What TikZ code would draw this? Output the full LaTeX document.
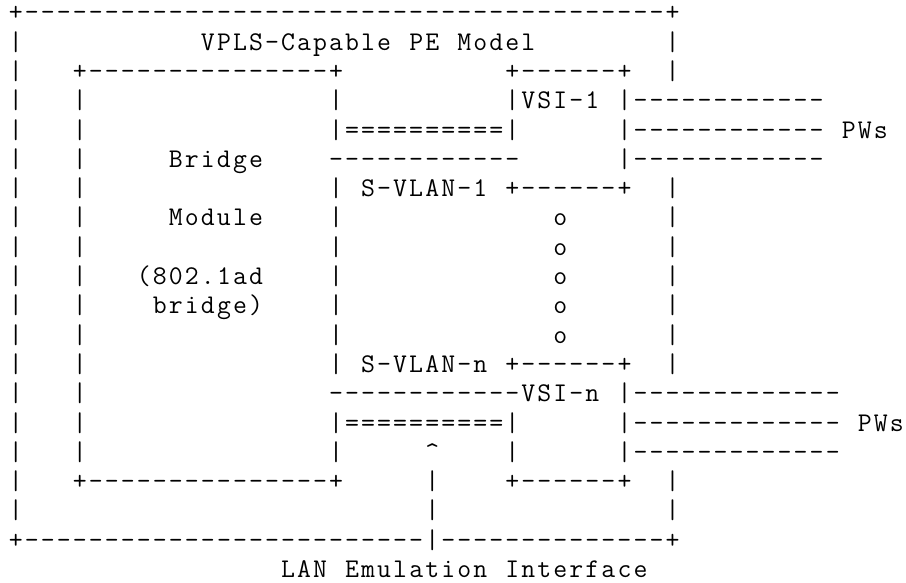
\documentclass[tikz,border=0pt]{standalone}
\usepackage{fontspec}
\newlength\cw
\setlength\cw{16.02pt}
\ExplSyntaxOn
\NewDocumentCommand\rpt{mm}{\prg_replicate:nn{#1}{\makebox[\cw]{#2}}}
\NewDocumentCommand\chs{m}{\tl_map_inline:nn{#1}{\makebox[\cw]{##1}}}
\ExplSyntaxOff
\tikzset{asc/.style={anchor=base west, inner sep=0pt, outer sep=0pt,
  font=\ttfamily\fontsize{27}{29.3}\selectfont, text=black}}
\newcommand\seg[4]{\node[asc] (#1) at ({7.7+16.02*#2},{-20.8-29.3*#3}) {#4};}
\begin{document}
\begin{tikzpicture}[x=1pt,y=1pt]
\fill[white] (0,0) rectangle (906,-582);
\useasboundingbox (0,0) rectangle (906,-582);
% row 0
\seg{outertop}{0}{0}{\chs{+}\rpt{40}{-}\chs{+}}
% row 1
\seg{r1a}{0}{1}{\chs{|}}\seg{titlea}{12}{1}{\chs{VPLS-Capable}}\seg{titleb}{25}{1}{\chs{PE}}\seg{titlec}{28}{1}{\chs{Model}}\seg{r1b}{41}{1}{\chs{|}}
% row 2
\seg{r2a}{0}{2}{\chs{|}}\seg{bridgetop}{4}{2}{\chs{+}\rpt{15}{-}\chs{+}}\seg{vsiatop}{31}{2}{\chs{+}\rpt{6}{-}\chs{+}}\seg{r2b}{41}{2}{\chs{|}}
% row 3
\seg{r3a}{0}{3}{\chs{|}}\seg{r3b}{4}{3}{\chs{|}}\seg{r3c}{20}{3}{\chs{|}}\seg{vsia}{31}{3}{\chs{|VSI-1}}\seg{pwa1}{38}{3}{\chs{|}\rpt{12}{-}}
% row 4
\seg{r4a}{0}{4}{\chs{|}}\seg{r4b}{4}{4}{\chs{|}}\seg{lanea}{20}{4}{\chs{|}\rpt{10}{=}\chs{|}}\seg{pwa2}{38}{4}{\chs{|}\rpt{12}{-}}\seg{pwsa}{52}{4}{\chs{PWs}}
% row 5
\seg{r5a}{0}{5}{\chs{|}}\seg{r5b}{4}{5}{\chs{|}}\seg{bridge}{10}{5}{\chs{Bridge}}\seg{linka}{20}{5}{\rpt{12}{-}}\seg{pwa3}{38}{5}{\chs{|}\rpt{12}{-}}
% row 6
\seg{r6a}{0}{6}{\chs{|}}\seg{r6b}{4}{6}{\chs{|}}\seg{r6c}{20}{6}{\chs{|}}\seg{svlana}{22}{6}{\chs{S-VLAN-1}}\seg{vsiabot}{31}{6}{\chs{+}\rpt{6}{-}\chs{+}}\seg{r6d}{41}{6}{\chs{|}}
% row 7
\seg{r7a}{0}{7}{\chs{|}}\seg{r7b}{4}{7}{\chs{|}}\seg{module}{10}{7}{\chs{Module}}\seg{r7c}{20}{7}{\chs{|}}\seg{o1}{34}{7}{\chs{o}}\seg{r7d}{41}{7}{\chs{|}}
% row 8
\seg{r8a}{0}{8}{\chs{|}}\seg{r8b}{4}{8}{\chs{|}}\seg{r8c}{20}{8}{\chs{|}}\seg{o2}{34}{8}{\chs{o}}\seg{r8d}{41}{8}{\chs{|}}
% row 9
\seg{r9a}{0}{9}{\chs{|}}\seg{r9b}{4}{9}{\chs{|}}\seg{std}{8}{9}{\chs{(802.1ad}}\seg{r9c}{20}{9}{\chs{|}}\seg{o3}{34}{9}{\chs{o}}\seg{r9d}{41}{9}{\chs{|}}
% row 10
\seg{r10a}{0}{10}{\chs{|}}\seg{r10b}{4}{10}{\chs{|}}\seg{brg}{9}{10}{\chs{bridge)}}\seg{r10c}{20}{10}{\chs{|}}\seg{o4}{34}{10}{\chs{o}}\seg{r10d}{41}{10}{\chs{|}}
% row 11
\seg{r11a}{0}{11}{\chs{|}}\seg{r11b}{4}{11}{\chs{|}}\seg{r11c}{20}{11}{\chs{|}}\seg{o5}{34}{11}{\chs{o}}\seg{r11d}{41}{11}{\chs{|}}
% row 12
\seg{r12a}{0}{12}{\chs{|}}\seg{r12b}{4}{12}{\chs{|}}\seg{r12c}{20}{12}{\chs{|}}\seg{svlann}{22}{12}{\chs{S-VLAN-n}}\seg{vsintop}{31}{12}{\chs{+}\rpt{6}{-}\chs{+}}\seg{r12d}{41}{12}{\chs{|}}
% row 13
\seg{r13a}{0}{13}{\chs{|}}\seg{r13b}{4}{13}{\chs{|}}\seg{vsin}{20}{13}{\rpt{12}{-}\chs{VSI-n}}\seg{pwn1}{38}{13}{\chs{|}\rpt{13}{-}}
% row 14
\seg{r14a}{0}{14}{\chs{|}}\seg{r14b}{4}{14}{\chs{|}}\seg{lanen}{20}{14}{\chs{|}\rpt{10}{=}\chs{|}}\seg{pwn2}{38}{14}{\chs{|}\rpt{13}{-}}\seg{pwsn}{53}{14}{\chs{PWs}}
% row 15
\seg{r15a}{0}{15}{\chs{|}}\seg{r15b}{4}{15}{\chs{|}}\seg{r15c}{20}{15}{\chs{|}}\seg{caret}{26}{15}{\makebox[\cw]{\textasciicircum}}\seg{r15d}{31}{15}{\chs{|}}\seg{pwn3}{38}{15}{\chs{|}\rpt{13}{-}}
% row 16
\seg{r16a}{0}{16}{\chs{|}}\seg{bridgebot}{4}{16}{\chs{+}\rpt{15}{-}\chs{+}}\seg{r16b}{26}{16}{\chs{|}}\seg{vsinbot}{31}{16}{\chs{+}\rpt{6}{-}\chs{+}}\seg{r16c}{41}{16}{\chs{|}}
% row 17
\seg{r17a}{0}{17}{\chs{|}}\seg{r17b}{26}{17}{\chs{|}}\seg{r17c}{41}{17}{\chs{|}}
% row 18
\seg{outerbot}{0}{18}{\chs{+}\rpt{25}{-}\chs{|}\rpt{14}{-}\chs{+}}
% row 19
\seg{leia}{17}{19}{\chs{LAN}}\seg{leib}{21}{19}{\chs{Emulation}}\seg{leic}{31}{19}{\chs{Interface}}
\end{tikzpicture}
\end{document}
